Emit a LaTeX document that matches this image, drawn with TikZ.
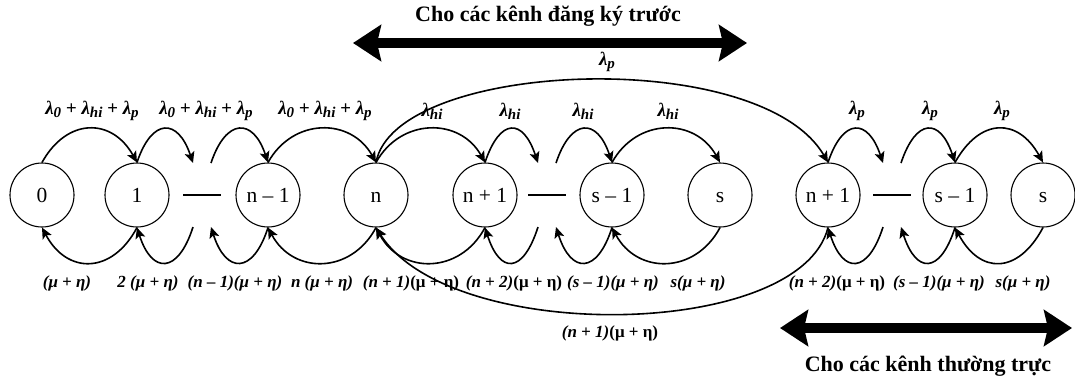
\documentclass[tikz,border=0pt]{standalone}
\usepackage{fontspec}
\setmainfont{Liberation Serif}
\usetikzlibrary{arrows.meta}
\newcommand{\lsub}[1]{\raisebox{-0.32ex}{\fontsize{15}{15}\selectfont #1}}
\tikzset{
  state/.style={circle, draw, line width=1.1pt, minimum size=64pt, inner sep=0pt, text height=14pt, text depth=0pt, font=\fontsize{21.5}{24}\selectfont},
  lbl/.style={inner sep=0pt, font=\fontsize{17}{20}\selectfont\bfseries\itshape},
  tlbl/.style={inner sep=0pt, font=\fontsize{19}{20}\selectfont\bfseries\itshape},
  head/.style={inner sep=0pt, font=\fontsize{22}{26}\selectfont\bfseries},
  arc/.style={draw, line width=1.6pt, -{Stealth[length=11pt,width=10pt,inset=2.5pt]}},
  dashline/.style={draw, line width=1.3pt},
  bigarrow/.style={draw, line width=10pt, {Stealth[length=28pt,width=36pt,inset=4pt]}-{Stealth[length=28pt,width=36pt,inset=4pt]}}
}
\begin{document}
\begin{tikzpicture}[x=1pt,y=-1pt]
\useasboundingbox (0,0) rectangle (1075,381);

% states
\node[state] (c0)  at (42,195)  {0};
\node[state] (c1)  at (137,195) {1};
\node[state] (cn1) at (268,195) {n – 1};
\node[state] (cn)  at (376,195) {n};
\node[state] (cp1) at (485,195) {n + 1};
\node[state] (cs1) at (612,195) {s – 1};
\node[state] (cs)  at (720,195) {s};
\node[state] (dp1) at (828,195) {n + 1};
\node[state] (ds1) at (955,195) {s – 1};
\node[state] (ds)  at (1043,195) {s};

% gap coordinates
\foreach \g/\x in {ga/202, gb/547, gc/892}{
  \coordinate (\g lt) at (\x-9,163);
  \coordinate (\g rt) at (\x+9,163);
  \coordinate (\g lb) at (\x-9,227);
  \coordinate (\g rb) at (\x+9,227);
  \coordinate (\g dl) at (\x-19,195);
  \coordinate (\g dr) at (\x+19,195);
}
\draw[dashline] (gadl) -- (gadr);
\draw[dashline] (gbdl) -- (gbdr);
\draw[dashline] (gcdl) -- (gcdr);

% top full arcs
\foreach \a/\b in {c0/c1, cn1/cn, cn/cp1, cs1/cs, ds1/ds}{
  \draw[arc] (\a.north) .. controls +(25,-45) and +(-25,-45) .. (\b.north);
}
% top partial arcs
\draw[arc] (c1.north) .. controls +(15,-45) and +(-15,-45) .. (galt);
\draw[arc] (gart) .. controls +(15,-45) and +(-15,-45) .. (cn1.north);
\draw[arc] (cp1.north) .. controls +(15,-45) and +(-15,-45) .. (gblt);
\draw[arc] (gbrt) .. controls +(15,-45) and +(-15,-45) .. (cs1.north);
\draw[arc] (dp1.north) .. controls +(15,-45) and +(-15,-45) .. (gclt);
\draw[arc] (gcrt) .. controls +(15,-45) and +(-15,-45) .. (ds1.north);

% bottom full arcs
\foreach \a/\b in {c1/c0, cn/cn1, cp1/cn, cs/cs1, ds/ds1}{
  \draw[arc] (\a.south) .. controls +(-25,47) and +(25,47) .. (\b.south);
}
% bottom partial arcs
\draw[arc] (galb) .. controls +(-15,47) and +(15,47) .. (c1.south);
\draw[arc] (cn1.south) .. controls +(-15,47) and +(15,47) .. (garb);
\draw[arc] (gblb) .. controls +(-15,47) and +(15,47) .. (cp1.south);
\draw[arc] (cs1.south) .. controls +(-15,47) and +(15,47) .. (gbrb);
\draw[arc] (gclb) .. controls +(-15,47) and +(15,47) .. (dp1.south);
\draw[arc] (ds1.south) .. controls +(-15,47) and +(15,47) .. (gcrb);

% big loop
\draw[arc] (cn.north) .. controls (395,60) and (760,45) .. (dp1.north);
\draw[arc] (dp1.south) .. controls (800,340) and (450,345) .. (cn.south);

% top labels
\node[tlbl] (t1) at (92,111)  {λ\lsub{0} + λ\lsub{hi} + λ\lsub{p}};
\node[tlbl] (t2) at (206,111) {λ\lsub{0} + λ\lsub{hi} + λ\lsub{p}};
\node[tlbl] (t3) at (325,111) {λ\lsub{0} + λ\lsub{hi} + λ\lsub{p}};
\node[tlbl] (t4) at (432,111) {λ\lsub{hi}};
\node[tlbl] (t5) at (510,111) {λ\lsub{hi}};
\node[tlbl] (t6) at (583,111) {λ\lsub{hi}};
\node[tlbl] (t7) at (668,111) {λ\lsub{hi}};
\node[tlbl] (t8) at (857,111) {λ\lsub{p}};
\node[tlbl] (t9) at (930,111) {λ\lsub{p}};
\node[tlbl] (t10) at (1002,111) {λ\lsub{p}};
\node[tlbl] (tb) at (607,62) {λ\lsub{p}};

% bottom labels
\node[lbl] (b1) at (67,283)  {(μ + η)};
\node[lbl] (b2) at (148,283) {2 (μ + η)};
\node[lbl] (b3) at (235,283) {(n – 1)(μ + η)};
\node[lbl] (b4) at (322,283) {n (μ + η)};
\node[lbl] (b5) at (411,283) {(n + 1)\textup{(μ + η)}};
\node[lbl] (b6) at (514,283) {(n + 2)\textup{(μ + η)}};
\node[lbl] (b7) at (613,283) {(s – 1)(μ + η)};
\node[lbl] (b8) at (698,283) {s(μ + η)};
\node[lbl] (b9) at (837,283) {(n + 2)\textup{(μ + η)}};
\node[lbl] (b10) at (939,283) {(s – 1)(μ + η)};
\node[lbl] (b11) at (1023,283) {s(μ + η)};
\node[lbl] (bb) at (610,333) {(n + 1)\textup{(μ + η)}};

% headings and thick arrows
\node[head] (h1) at (548,16) {Cho các kênh đăng ký trước};
\coordinate (a1l) at (353,43);
\coordinate (a1r) at (747,43);
\draw[bigarrow] (a1l) -- (a1r);
\node[head] (h2) at (928,366) {Cho các kênh thường trực};
\coordinate (a2l) at (780,328);
\coordinate (a2r) at (1072,328);
\draw[bigarrow] (a2l) -- (a2r);
\end{tikzpicture}
\end{document}
